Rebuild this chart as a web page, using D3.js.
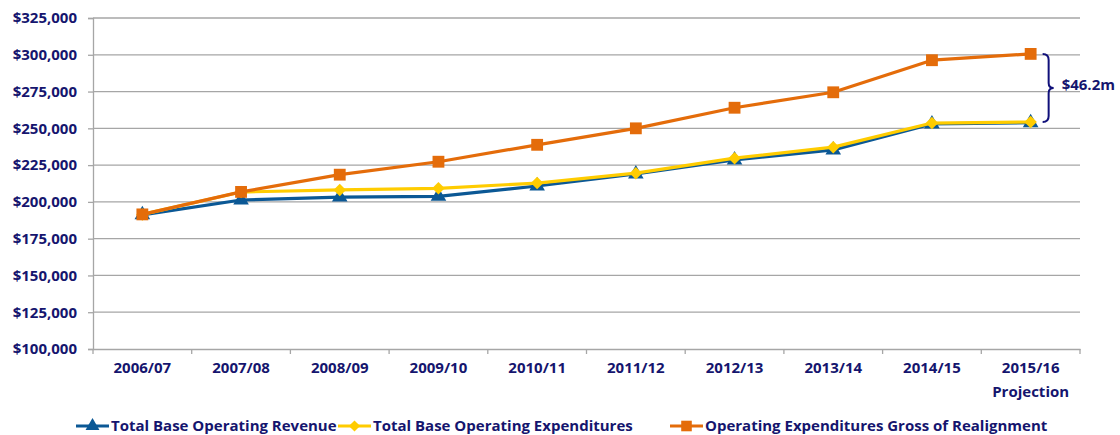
<!DOCTYPE html>
<html>
<head>
<meta charset="utf-8">
<script src="https://cdn.jsdelivr.net/npm/d3@7"></script>
<style>
  body { margin: 0; background: #fff; }
  text { font-family: "Open Sans", sans-serif; font-weight: bold; fill: #15156e; }
</style>
</head>
<body>
<svg id="chart" width="1120" height="435"></svg>
<script>
// data
const years = ['2006/07', '2007/08', '2008/09', '2009/10', '2010/11', '2011/12', '2012/13', '2013/14', '2014/15', '2015/16'];
const revenue = [191200, 201300, 203300, 203800, 210800, 219000, 228500, 235300, 253000, 253800];
const expenditures = [191500, 206700, 208100, 209200, 212800, 219500, 229700, 237200, 253600, 254300];
const grossExpenditures = [191500, 206800, 218500, 227300, 238800, 250000, 264000, 274500, 296300, 300600];
const yTicks = [100000, 125000, 150000, 175000, 200000, 225000, 250000, 275000, 300000, 325000];
const gapLabel = '$46.2m';

const navy = '#15156e';
const colBlue = '#0b5895', colYellow = '#ffcc00', colOrange = '#e46c0a';
const fontSize = 15;

const svg = d3.select('#chart');
const plotLeft = 93, plotRight = 1080, plotTop = 18, plotBottom = 349;

const x = d3.scaleBand().domain(years).range([plotLeft, plotRight]);
const y = d3.scaleLinear().domain([100000, 325000]).range([plotBottom, plotTop]);
const fmt = d => '$' + d3.format(',')(d);

// grid
svg.append('g').selectAll('line').data(yTicks.slice(1)).enter().append('line')
  .attr('x1', plotLeft).attr('x2', plotRight)
  .attr('y1', d => y(d)).attr('y2', d => y(d))
  .attr('stroke', '#a6a6a6').attr('stroke-width', 1.3);

// y axis
const yAxis = svg.append('g').attr('transform', 'translate(' + plotLeft + ',0)')
  .call(d3.axisLeft(y).tickValues(yTicks).tickFormat(fmt).tickSize(5).tickPadding(11));
yAxis.select('.domain').attr('stroke', '#a6a6a6').attr('stroke-width', 1.3);
yAxis.selectAll('.tick line').attr('stroke', '#a6a6a6').attr('stroke-width', 1.3);
yAxis.selectAll('text').attr('font-size', fontSize).attr('fill', navy).attr('font-family', '"Open Sans", sans-serif');

// x axis
const xAxis = svg.append('g').attr('transform', 'translate(0,' + plotBottom + ')')
  .call(d3.axisBottom(x).tickSize(0).tickPadding(13));
xAxis.select('.domain').attr('stroke', '#a6a6a6').attr('stroke-width', 1.3);
xAxis.selectAll('text').attr('font-size', fontSize).attr('fill', navy).attr('font-family', '"Open Sans", sans-serif');
xAxis.selectAll('.tick').filter(d => d === '2015/16').select('text')
  .append('tspan').attr('x', 0).attr('dy', '1.6em').text('Projection');
// band boundary ticks
svg.append('g').selectAll('line').data(years.concat(['end'])).enter().append('line')
  .attr('x1', (d, i) => plotLeft + i * x.step()).attr('x2', (d, i) => plotLeft + i * x.step())
  .attr('y1', plotBottom).attr('y2', plotBottom + 5)
  .attr('stroke', '#a6a6a6').attr('stroke-width', 1.3);

const cx = d => x(d) + x.bandwidth() / 2;
const line = d3.line().x(d => cx(d[0])).y(d => y(d[1]));

const series = [
  { name: 'Total Base Operating Revenue', values: revenue, color: colBlue, symbol: d3.symbolTriangle, size: 105, rot: 0 },
  { name: 'Total Base Operating Expenditures', values: expenditures, color: colYellow, symbol: d3.symbolSquare, size: 78, rot: 45 },
  { name: 'Operating Expenditures Gross of Realignment', values: grossExpenditures, color: colOrange, symbol: d3.symbolSquare, size: 140, rot: 0 }
];

series.forEach(s => {
  const pts = years.map((yr, i) => [yr, s.values[i]]);
  svg.append('path').datum(pts).attr('d', line)
    .attr('fill', 'none').attr('stroke', s.color).attr('stroke-width', 3.2)
    .attr('stroke-linejoin', 'round');
  svg.append('g').selectAll('path').data(pts).enter().append('path')
    .attr('d', d3.symbol().type(s.symbol).size(s.size))
    .attr('transform', d => 'translate(' + cx(d[0]) + ',' + y(d[1]) + ') rotate(' + s.rot + ')')
    .attr('fill', s.color);
});

// brace showing the gap on the last year
const last = years.length - 1;
const bx = cx(years[last]) + 12;
const y1 = y(grossExpenditures[last]), y2 = y(expenditures[last]);
const ym = (y1 + y2) / 2;
const bp = d3.path();
bp.moveTo(bx, y1);
bp.quadraticCurveTo(bx + 6, y1, bx + 6, y1 + 6);
bp.lineTo(bx + 6, ym - 5);
bp.quadraticCurveTo(bx + 6, ym, bx + 11, ym);
bp.quadraticCurveTo(bx + 6, ym, bx + 6, ym + 5);
bp.lineTo(bx + 6, y2 - 6);
bp.quadraticCurveTo(bx + 6, y2, bx, y2);
svg.append('path').attr('d', bp.toString()).attr('fill', 'none')
  .attr('stroke', '#10107a').attr('stroke-width', 2);
svg.append('text').attr('x', bx + 19).attr('y', ym - 3).attr('dy', '0.35em')
  .attr('font-size', fontSize).text(gapLabel);

// legend
const legendX = [76, 338, 670];
const lg = svg.append('g');
series.forEach((s, i) => {
  const g = lg.append('g').attr('transform', 'translate(' + legendX[i] + ',426)');
  g.append('line').attr('x1', 0).attr('x2', 33).attr('stroke', s.color).attr('stroke-width', 3.2);
  g.append('path').attr('d', d3.symbol().type(s.symbol).size(s.size * 0.8))
    .attr('transform', 'translate(16.5,0) rotate(' + s.rot + ')').attr('fill', s.color);
  g.append('text').attr('x', 35).attr('dy', '0.35em').attr('font-size', fontSize).text(s.name);
});
</script>
</body>
</html>
